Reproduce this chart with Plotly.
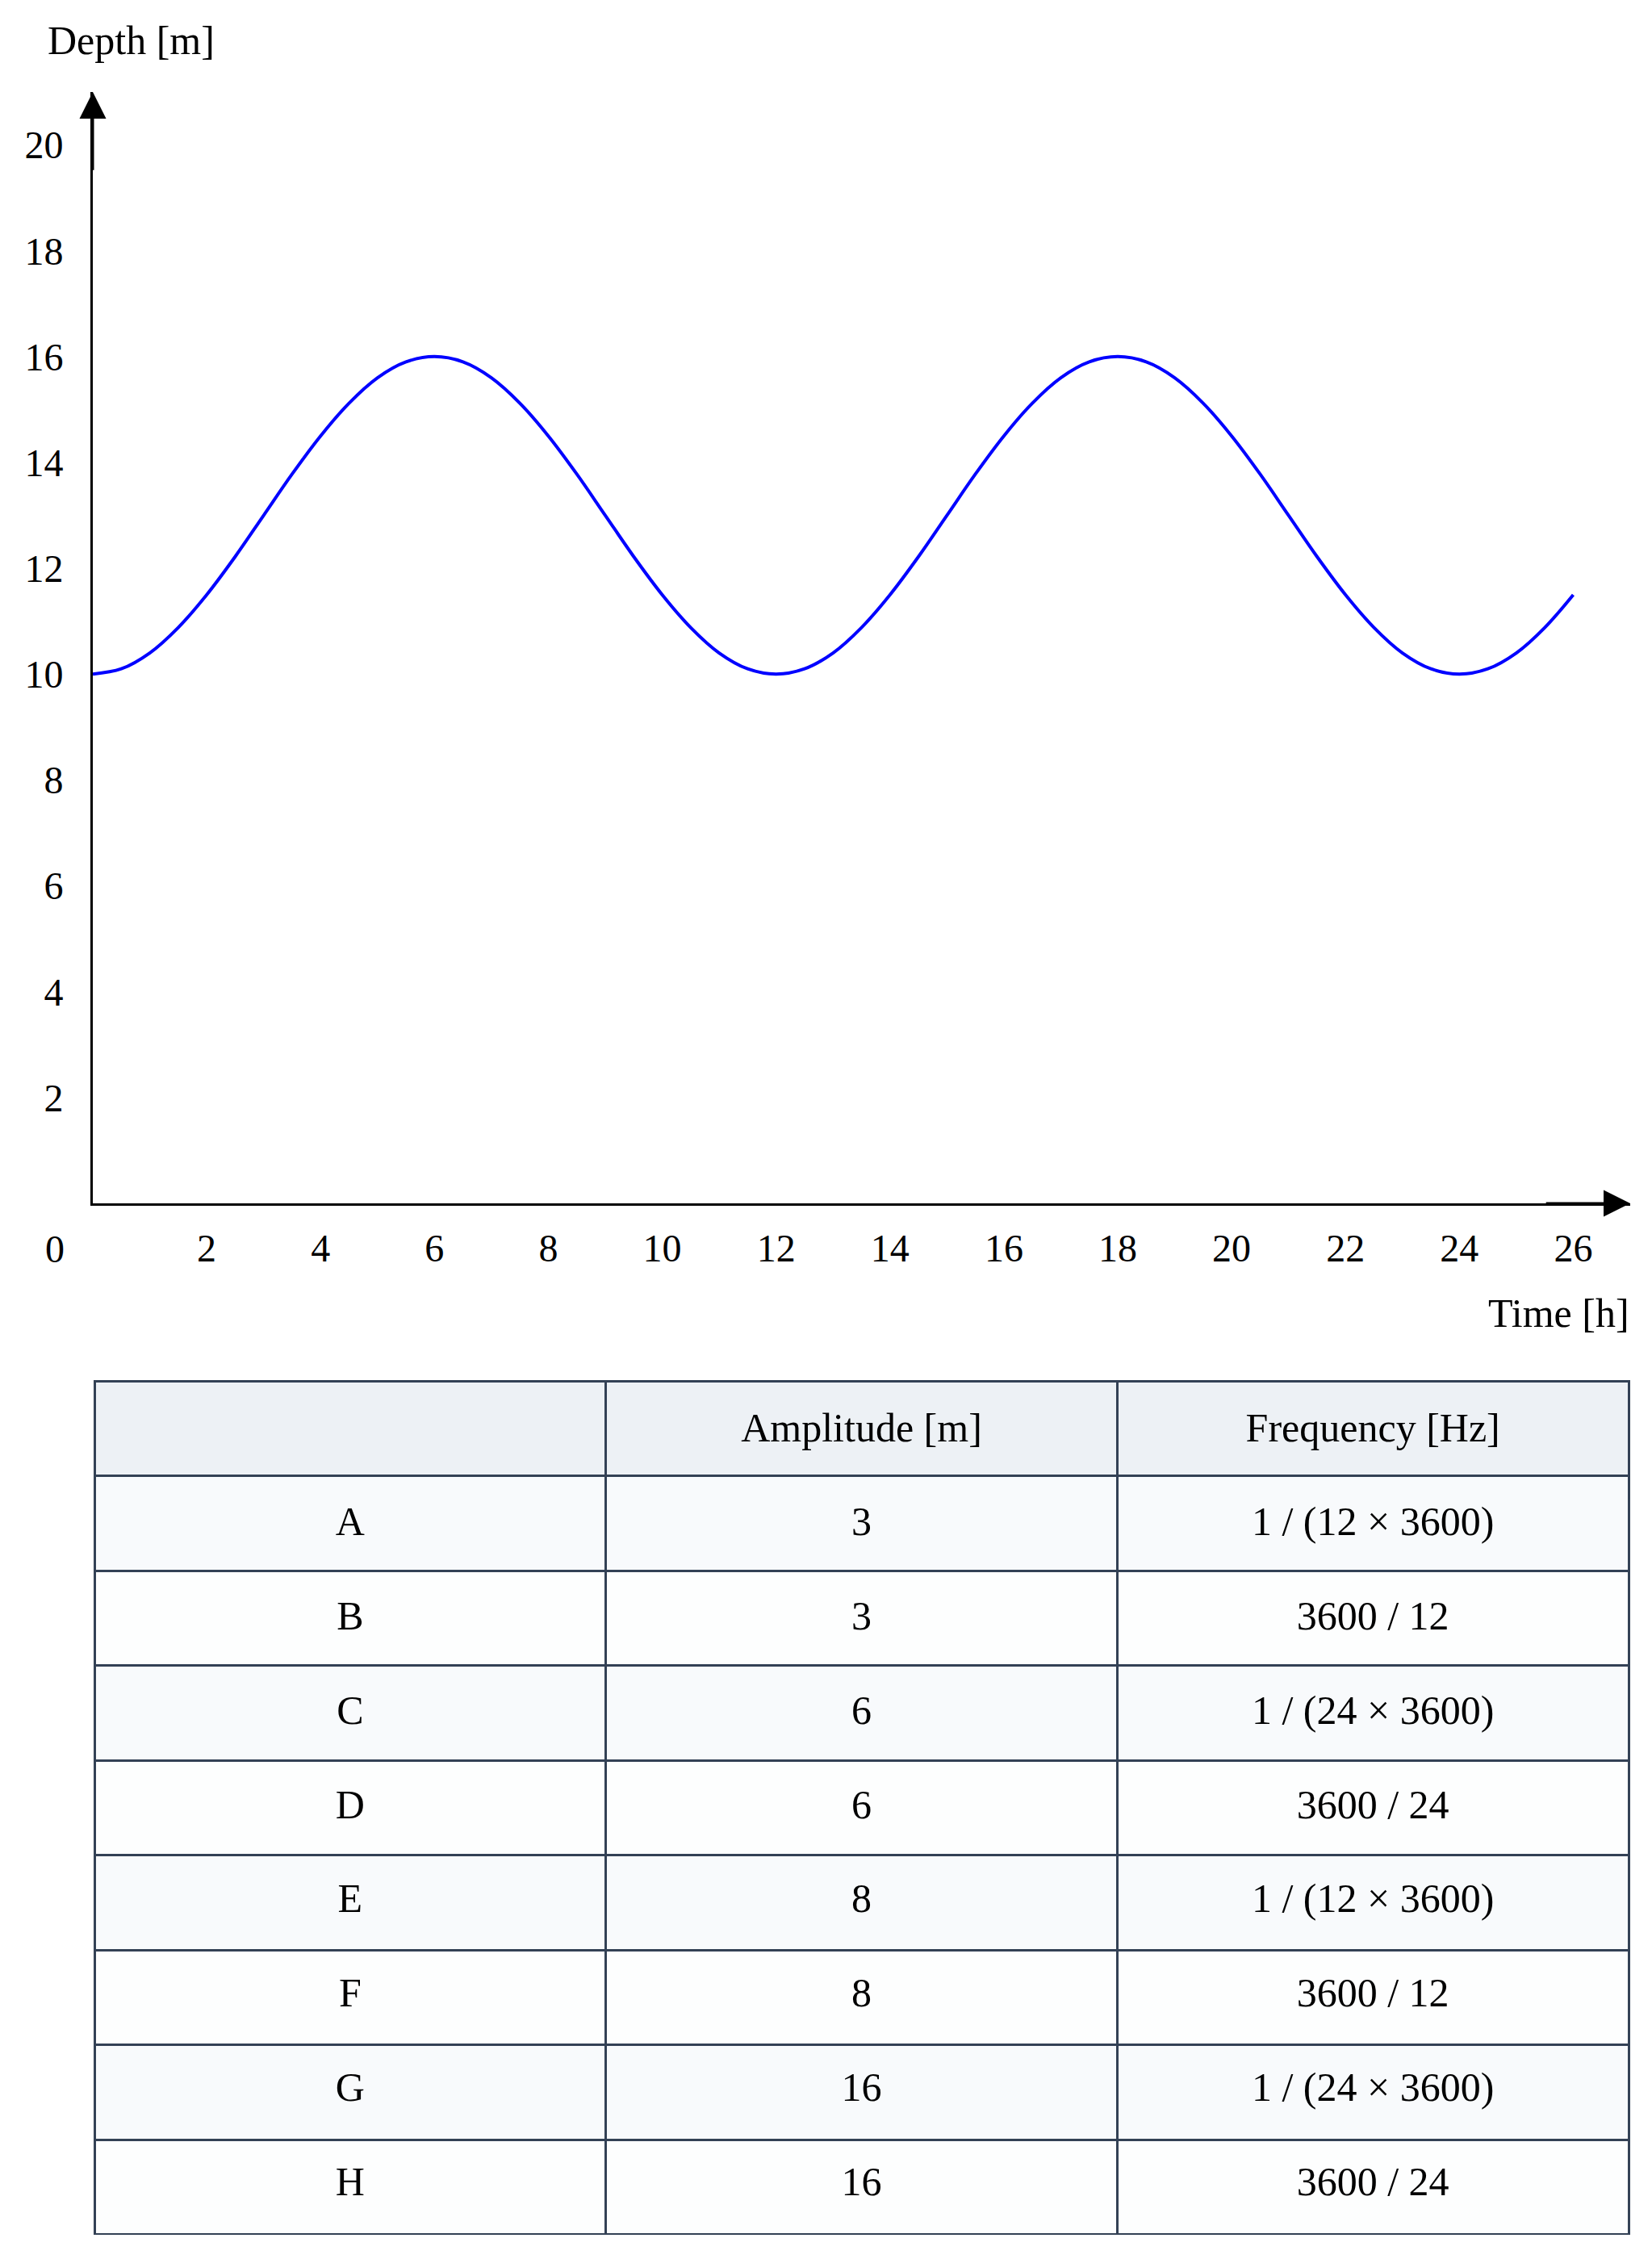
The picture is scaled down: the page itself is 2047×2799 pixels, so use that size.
import plotly.graph_objects as go

# tide reading, every half hour
time_h = [i / 2 for i in range(0, 53)]
depth_m = [10.00, 10.10, 10.40, 10.88, 11.50, 12.22, 13.00, 13.78, 14.50, 15.12, 15.60, 15.90,
           16.00, 15.90, 15.60, 15.12, 14.50, 13.78, 13.00, 12.22, 11.50, 10.88, 10.40, 10.10,
           10.00, 10.10, 10.40, 10.88, 11.50, 12.22, 13.00, 13.78, 14.50, 15.12, 15.60, 15.90,
           16.00, 15.90, 15.60, 15.12, 14.50, 13.78, 13.00, 12.22, 11.50, 10.88, 10.40, 10.10,
           10.00, 10.10, 10.40, 10.88, 11.50]

x_ticks = [2, 4, 6, 8, 10, 12, 14, 16, 18, 20, 22, 24, 26]
y_ticks = [2, 4, 6, 8, 10, 12, 14, 16, 18, 20]

header = ["", "Amplitude [m]", "Frequency [Hz]"]
options = ["A", "B", "C", "D", "E", "F", "G", "H"]
amplitudes = [3, 3, 6, 6, 8, 8, 16, 16]
frequencies = ["1 / (12 × 3600)", "3600 / 12", "1 / (24 × 3600)", "3600 / 24",
               "1 / (12 × 3600)", "3600 / 12", "1 / (24 × 3600)", "3600 / 24"]

# page body has an 8px margin, so the figure is a bit smaller than the window
W, H = 2031, 2783
FONT = "Liberation Serif"
FS_TICK = 48
FS = 50
EDGE = "#334155"
ROW_H = 117.5
TXT_DROP = 29  # plotly puts table text at the top of a cell


def px_x(p):
    return p / W


def px_y(p):
    return 1 - p / H


fig = go.Figure()

fig.add_trace(go.Scatter(
    x=time_h, y=depth_m, mode="lines",
    line=dict(color="#0000ff", width=4, shape="spline", smoothing=1),
    hoverinfo="skip", showlegend=False,
))

# table grid and fills
row_fill = ["#f8fafc" if i % 2 == 0 else "#fdfefe" for i in range(len(options))]
tbl_x = [px_x(109), px_x(2010)]
tbl_top, tbl_bot = 1703, 2761
fig.add_trace(go.Table(
    domain=dict(x=tbl_x, y=[px_y(tbl_bot), px_y(tbl_top)]),
    columnwidth=[1, 1, 1],
    header=dict(
        values=[""] * len(header), height=ROW_H,
        fill_color="#edf1f5", line=dict(color=EDGE, width=3),
    ),
    cells=dict(
        values=[[""] * len(options)] * 3, height=ROW_H,
        fill_color=[row_fill] * 3, line=dict(color=EDGE, width=3),
    ),
))

# table text, laid over the grid and dropped to the middle of each cell
txt_h = (H - (tbl_top + TXT_DROP)) / (len(options) + 1)
clear = "rgba(0,0,0,0)"
fig.add_trace(go.Table(
    domain=dict(x=tbl_x, y=[0, px_y(tbl_top + TXT_DROP)]),
    columnwidth=[1, 1, 1],
    header=dict(
        values=header, height=txt_h, align="center",
        fill_color=clear, line=dict(color=clear, width=0),
        font=dict(family=FONT, size=FS, color="black"),
    ),
    cells=dict(
        values=[options, amplitudes, frequencies], height=txt_h, align="center",
        fill_color=clear, line=dict(color=clear, width=0),
        font=dict(family=FONT, size=FS, color="black"),
    ),
))

fig.update_xaxes(
    domain=[px_x(107), px_x(2012)], range=[0, 27],
    tickvals=x_ticks, ticks="", showgrid=False, zeroline=False,
    showline=True, linecolor="black", linewidth=3,
    tickfont=dict(family=FONT, size=FS_TICK, color="black"),
    ticklabelstandoff=11, automargin=False, fixedrange=True,
)
fig.update_yaxes(
    domain=[px_y(1483), px_y(106)], range=[0, 21],
    tickvals=y_ticks, ticks="", showgrid=False, zeroline=False,
    showline=True, linecolor="black", linewidth=3,
    tickfont=dict(family=FONT, size=FS_TICK, color="black"),
    ticklabelstandoff=24, automargin=False, fixedrange=True,
)

# arrowheads on the axes
arrow = dict(showarrow=True, arrowhead=2, arrowsize=2.2, arrowwidth=3,
             arrowcolor="black", text="", xref="x", yref="y",
             axref="x", ayref="y", standoff=0)
fig.add_annotation(x=0, y=21, ax=0, ay=19.5, **arrow)
fig.add_annotation(x=27, y=0, ax=25.5, ay=0, **arrow)

# axis titles and origin label
fig.add_annotation(text="Depth [m]", xref="paper", yref="paper",
                   x=px_x(49), y=px_y(42), xanchor="left", yanchor="middle",
                   showarrow=False, font=dict(family=FONT, size=FS, color="black"))
fig.add_annotation(text="Time [h]", xref="paper", yref="paper",
                   x=px_x(2013), y=px_y(1619), xanchor="right", yanchor="middle",
                   showarrow=False, font=dict(family=FONT, size=FS, color="black"))
fig.add_annotation(text="0", xref="paper", yref="paper",
                   x=px_x(60), y=px_y(1539), xanchor="center", yanchor="middle",
                   showarrow=False, font=dict(family=FONT, size=FS_TICK, color="black"))

fig.update_layout(
    width=W, height=H,
    margin=dict(l=0, r=0, t=0, b=0),
    paper_bgcolor="white", plot_bgcolor="white",
    showlegend=False,
)

fig.write_html("out.html")
